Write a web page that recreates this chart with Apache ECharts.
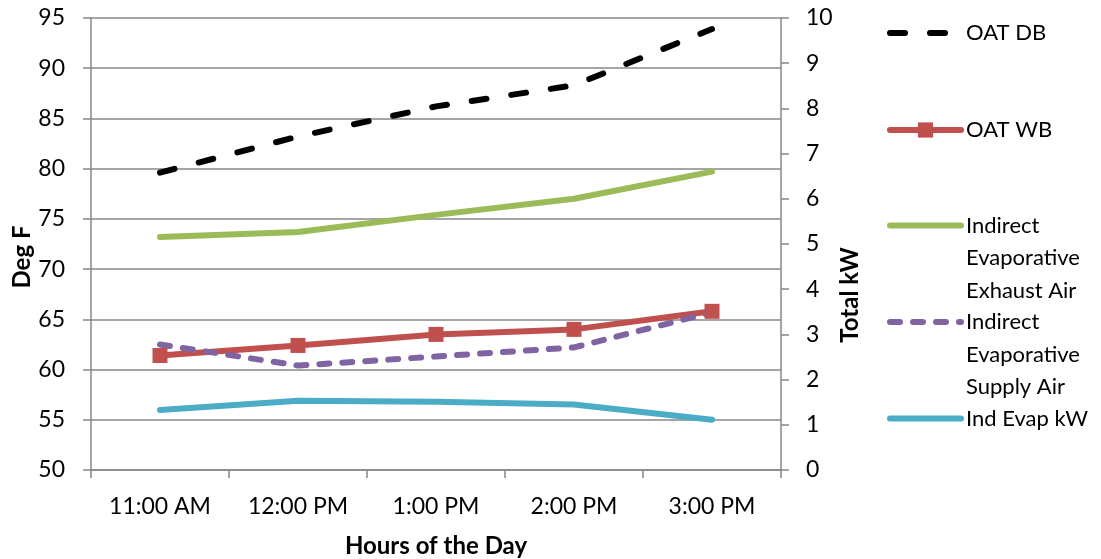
<!DOCTYPE html>
<html>
<head>
<meta charset="utf-8">
<script src="https://cdn.jsdelivr.net/npm/echarts@6/dist/echarts.min.js"></script>
<style>
html,body{margin:0;padding:0;background:#fff;}
#c{width:1101px;height:559px;}
</style>
</head>
<body>
<div id="c"></div>
<script>
const categories = ['11:00 AM', '12:00 PM', '1:00 PM', '2:00 PM', '3:00 PM'];
const oatDB = [79.6, 83.2, 86.2, 88.3, 93.9];
const oatWB = [61.4, 62.4, 63.5, 64.0, 65.8];
const exhaustAir = [73.2, 73.7, 75.4, 77.0, 79.7];
const supplyAir = [62.5, 60.4, 61.3, 62.2, 65.7];
const indEvapKW = [1.33, 1.53, 1.51, 1.45, 1.11];
const leftAxis = { min: 50, max: 95, interval: 5 };
const rightAxis = { min: 0, max: 10, interval: 1 };
const seriesNames = ['OAT DB', 'OAT WB', 'Indirect Evaporative Exhaust Air', 'Indirect Evaporative Supply Air', 'Ind Evap kW'];
const legendLines = [['OAT DB'], ['OAT WB'], ['Indirect', 'Evaporative', 'Exhaust Air'], ['Indirect', 'Evaporative', 'Supply Air'], ['Ind Evap kW']];

const FONT = 'Lato';
const GRID_COLOR = '#878787';
const LINE_H = 32.5;
const legendIconY = [33, 130, 225.5, 322, 418.5];

const styles = [
  { color: '#000000', dash: [15, 25], symbol: 'none' },
  { color: '#C0504D', dash: 'solid', symbol: 'rect' },
  { color: '#9BBB59', dash: 'solid', symbol: 'none' },
  { color: '#8064A2', dash: [10, 13], symbol: 'none' },
  { color: '#4BACC6', dash: 'solid', symbol: 'none' }
];

const legends = seriesNames.map((name, i) => {
  const lines = legendLines[i];
  const n = lines.length;
  // pad with blank lines above so the first real line sits level with the icon
  const label = new Array(n - 1).fill('').concat(lines).join('\n');
  return {
    data: [name],
    orient: 'vertical',
    left: 887,
    top: legendIconY[i] - (2 * n - 1) * LINE_H / 2,
    padding: 0,
    itemWidth: 71,
    itemHeight: 19,
    itemGap: 0,
    selectedMode: false,
    formatter: () => label,
    itemStyle: { opacity: styles[i].symbol === 'none' ? 0 : 1 },
    lineStyle: { width: 6, type: styles[i].dash, cap: 'round', color: styles[i].color },
    textStyle: { fontFamily: FONT, fontSize: 22, color: '#000', lineHeight: LINE_H }
  };
});

const chart = echarts.init(document.getElementById('c'), null, { renderer: 'canvas' });
chart.setOption({
  animation: false,
  backgroundColor: '#fff',
  grid: { left: 91, right: 320, top: 18, bottom: 89, containLabel: false },
  legend: legends,
  xAxis: {
    type: 'category',
    data: categories,
    boundaryGap: true,
    axisLine: { show: true, lineStyle: { color: GRID_COLOR, width: 1.5 } },
    axisTick: { show: true, length: 8, interval: 0, lineStyle: { color: GRID_COLOR, width: 1.5 } },
    axisLabel: { fontFamily: FONT, fontSize: 23, color: '#000', margin: 25, interval: 0 }
  },
  yAxis: [
    {
      type: 'value', position: 'left',
      min: leftAxis.min, max: leftAxis.max, interval: leftAxis.interval,
      axisLine: { show: true, lineStyle: { color: GRID_COLOR, width: 1.5 } },
      axisTick: { show: true, length: 8, lineStyle: { color: GRID_COLOR, width: 1.5 } },
      splitLine: { show: true, lineStyle: { color: GRID_COLOR, width: 1.5 } },
      axisLabel: { fontFamily: FONT, fontSize: 23, color: '#000', margin: 26 }
    },
    {
      type: 'value', position: 'right',
      min: rightAxis.min, max: rightAxis.max, interval: rightAxis.interval,
      axisLine: { show: true, lineStyle: { color: GRID_COLOR, width: 1.5 } },
      axisTick: { show: true, length: 8, lineStyle: { color: GRID_COLOR, width: 1.5 } },
      splitLine: { show: false },
      axisLabel: { fontFamily: FONT, fontSize: 23, color: '#000', margin: 25 }
    }
  ],
  graphic: [
    { type: 'text', x: 22, y: 257, rotation: Math.PI / 2,
      style: { text: 'Deg F', fontFamily: FONT, fontSize: 24, fontWeight: 'bold', fill: '#000', align: 'center', verticalAlign: 'middle' } },
    { type: 'text', x: 850, y: 295, rotation: Math.PI / 2,
      style: { text: 'Total kW', fontFamily: FONT, fontSize: 24, fontWeight: 'bold', fill: '#000', align: 'center', verticalAlign: 'middle' } },
    { type: 'text', x: 436, y: 546,
      style: { text: 'Hours of the Day', fontFamily: FONT, fontSize: 24, fontWeight: 'bold', fill: '#000', align: 'center', verticalAlign: 'middle' } }
  ],
  series: [
    { name: seriesNames[0], type: 'line', data: oatDB, yAxisIndex: 0, symbol: 'none',
      lineStyle: { color: styles[0].color, width: 6, type: styles[0].dash, cap: 'round' }, itemStyle: { color: styles[0].color } },
    { name: seriesNames[1], type: 'line', data: oatWB, yAxisIndex: 0, symbol: 'rect', symbolSize: 15,
      lineStyle: { color: styles[1].color, width: 6, cap: 'round' }, itemStyle: { color: styles[1].color } },
    { name: seriesNames[2], type: 'line', data: exhaustAir, yAxisIndex: 0, symbol: 'none',
      lineStyle: { color: styles[2].color, width: 6, cap: 'round' }, itemStyle: { color: styles[2].color } },
    { name: seriesNames[3], type: 'line', data: supplyAir, yAxisIndex: 0, symbol: 'none',
      lineStyle: { color: styles[3].color, width: 6, type: styles[3].dash, cap: 'round' }, itemStyle: { color: styles[3].color } },
    { name: seriesNames[4], type: 'line', data: indEvapKW, yAxisIndex: 1, symbol: 'none',
      lineStyle: { color: styles[4].color, width: 6, cap: 'round' }, itemStyle: { color: styles[4].color } }
  ]
});
</script>
</body>
</html>
